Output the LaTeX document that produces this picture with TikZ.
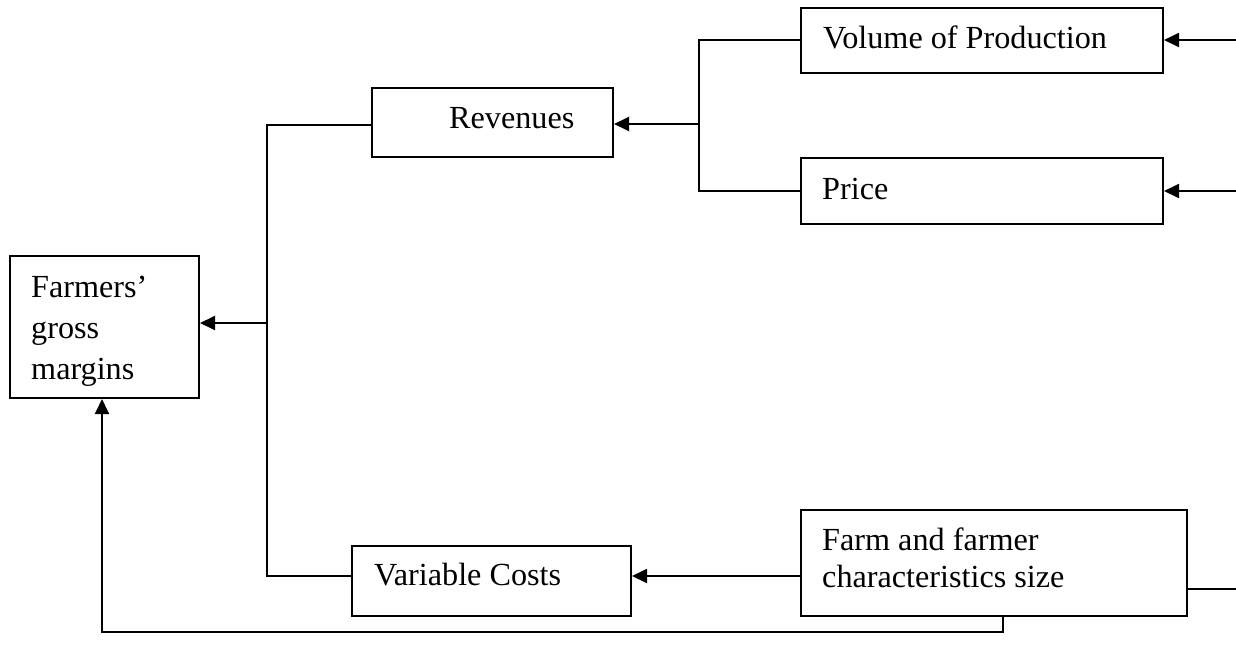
\documentclass[tikz,border=0pt]{standalone}
\usepackage{fontspec}
\setmainfont{Liberation Serif}
\usetikzlibrary{arrows.meta}
\begin{document}
\begin{tikzpicture}[x=1pt,y=-1pt,
  box/.style={draw,line width=2pt,rectangle,inner sep=0pt},
  txt/.style={anchor=base west,inner sep=0pt,font=\fontsize{32.2}{37}\selectfont},
  conn/.style={line width=1.9pt},
  arr/.style={line width=1.9pt,-{Triangle[length=15pt,width=14pt]}}]
\useasboundingbox (0,0) rectangle (1236,667);
% boxes
\node[box,minimum width=189pt,minimum height=142pt] (farm) at (104.5,327) {};
\node[box,minimum width=241pt,minimum height=69pt] (rev) at (492.5,122.5) {};
\node[box,minimum width=362pt,minimum height=65pt] (vol) at (982,40.5) {};
\node[box,minimum width=362pt,minimum height=66pt] (price) at (982,191) {};
\node[box,minimum width=279pt,minimum height=70pt] (var) at (491.5,581) {};
\node[box,minimum width=386pt,minimum height=106pt] (chars) at (994,563) {};
% texts
\node[txt] (t1) at (31,297) {Farmers’};
\node[txt] (t2) at (31,338) {gross};
\node[txt] (t3) at (31,379) {margins};
\node[txt] (t4) at (449,128) {Revenues};
\node[txt] (t5) at (823,48) {Volume of Production};
\node[txt] (t6) at (822,199) {Price};
\node[txt] (t7) at (374,585) {Variable Costs};
\node[txt] (t8) at (822,550) {Farm and farmer};
\node[txt] (t9) at (822,587) {characteristics size};
% junction coordinates
\coordinate (j1) at (267,125);
\coordinate (j2) at (267,576);
\coordinate (j3) at (267,323);
\coordinate (j4) at (699,40);
\coordinate (j5) at (699,191);
\coordinate (j6) at (699,124);
\coordinate (r1) at (1236,40);
\coordinate (r2) at (1236,191);
\coordinate (r3) at (1236,589);
\coordinate (b1) at (1003,632);
\coordinate (b2) at (102,632);
% connectors
\draw[conn] (rev.west |- j1) -- (j1) -- (j2) -- (var.west |- j2);
\draw[arr] (j3) -- (farm.east |- j3);
\draw[conn] (vol.west |- j4) -- (j4) -- (j5) -- (price.west |- j5);
\draw[arr] (j6) -- (rev.east |- j6);
\draw[arr] (r1) -- (vol.east |- r1);
\draw[arr] (r2) -- (price.east |- r2);
\draw[conn] (chars.east |- r3) -- (r3);
\draw[arr] (chars.west |- j2) -- (var.east |- j2);
\draw[arr] (chars.south -| b1) -- (b1) -- (b2) -- (farm.south -| b2);
\end{tikzpicture}
\end{document}
